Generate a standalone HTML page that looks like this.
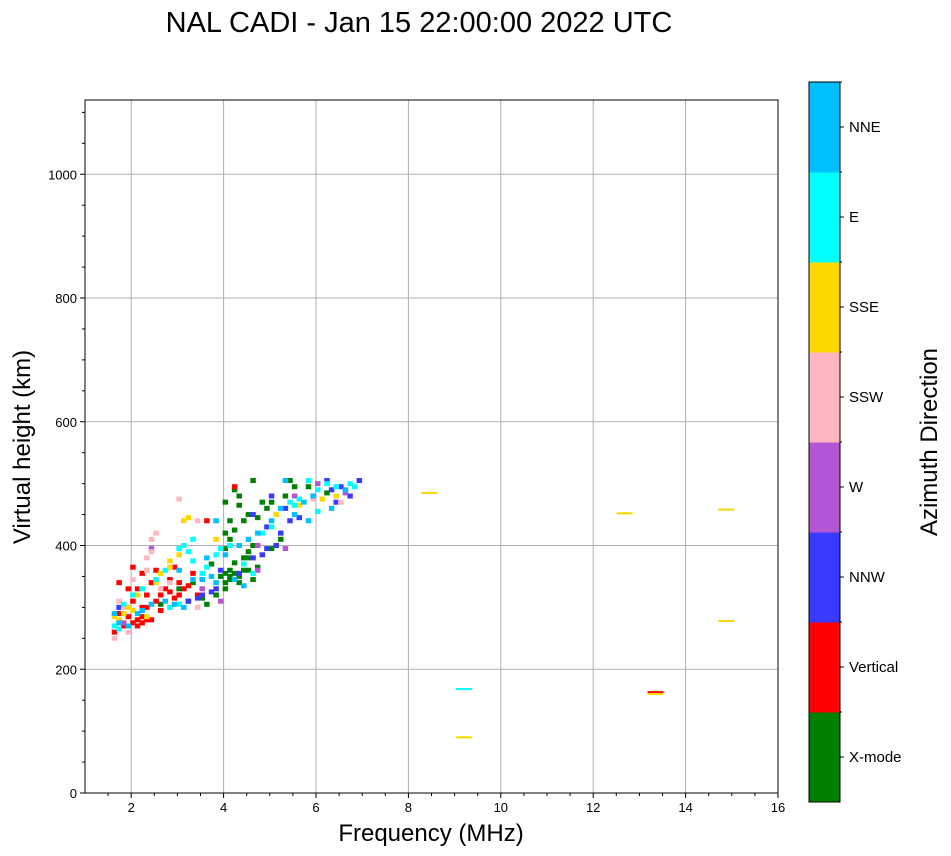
<!DOCTYPE html>
<html><head><meta charset="utf-8"><style>
html,body{margin:0;padding:0;background:#fff;}
svg{display:block;font-family:"Liberation Sans",sans-serif;}
</style></head><body>
<svg id="chart" width="951" height="856" viewBox="0 0 951 856">
<text x="419" y="32" font-size="29" text-anchor="middle">NAL CADI - Jan 15 22:00:00 2022 UTC</text>
<g id="grid"></g><g id="marks"></g><g id="axes"></g><g id="cbar"></g>
<text x="431" y="841" font-size="24" text-anchor="middle">Frequency (MHz)</text>
<text transform="translate(30,447) rotate(-90)" font-size="24" text-anchor="middle">Virtual height (km)</text>
<text transform="translate(937,442) rotate(-90)" font-size="24" text-anchor="middle">Azimuth Direction</text>
</svg>
<script>
const categories=["X-mode","Vertical","NNW","W","SSW","SSE","E","NNE"];
const catColors=["#008000","#ff0000","#3a3aff","#b455d6","#ffb6c1","#ffd700","#00ffff","#00bfff"];
const xTicks=[2,4,6,8,10,12,14,16];
const yTicks=[0,200,400,600,800,1000];
const greenPts=[[4.0,330],[4.0,340],[4.1,350],[4.2,355],[4.3,350],[4.4,360],[4.2,345],[4.1,360],[4.3,340],[3.9,350],[4.5,360],[4.4,380],[4.5,390],[4.6,400],[4.1,410],[4.2,425],[4.0,420],[4.4,440],[4.5,450],[4.7,445],[4.8,470],[4.3,480],[4.2,490],[4.9,460],[5.0,470],[5.3,480],[5.5,495],[5.4,505],[4.6,505],[3.6,305],[3.5,315],[3.8,320],[3.3,340],[4.0,395],[4.1,440],[5.1,400],[5.2,410],[3.0,330],[3.7,370],[4.5,380],[2.6,305],[5.0,395],[4.3,465],[5.8,495],[6.2,485],[4.0,470],[4.2,372],[4.6,345],[4.7,365],[4.0,355],[4.1,345]];
const redPts=[[2.0,275],[2.1,280],[2.2,275],[2.3,280],[2.2,285],[2.4,280],[2.1,270],[1.9,285],[1.8,270],[1.6,260],[1.7,290],[2.3,300],[2.5,310],[2.6,320],[2.7,330],[2.8,325],[2.9,315],[3.0,320],[3.1,330],[3.2,335],[2.2,300],[2.0,310],[2.4,340],[2.2,355],[2.5,360],[2.9,365],[3.3,355],[3.0,340],[3.4,320],[1.9,330],[1.7,340],[2.3,320],[2.6,295],[3.2,310],[2.1,330],[3.6,440],[4.2,495],[2.0,365],[2.8,345]];
const nnwPts=[[3.2,310],[3.4,315],[3.5,320],[3.7,325],[3.8,330],[4.3,355],[4.6,380],[4.8,385],[4.9,395],[5.1,400],[5.2,420],[5.4,440],[5.6,445],[5.3,460],[6.3,490],[6.5,495],[6.7,480],[6.9,505],[6.2,505],[6.4,470],[4.9,430],[4.6,450],[1.7,300],[3.9,360],[5.0,480]];
const wPts=[[2.4,395],[3.9,310],[4.7,360],[4.7,400],[5.3,395],[6.6,485],[1.8,275],[3.5,330],[6.0,500],[5.5,480]];
const sswPts=[[2.4,410],[2.4,390],[2.3,380],[2.5,420],[2.3,360],[1.8,300],[1.7,310],[2.0,345],[1.6,250],[3.0,475],[2.8,340],[2.6,330],[3.4,300],[6.5,470],[5.9,475],[3.4,440],[1.9,260]];
const ssePts=[[1.7,280],[1.8,290],[1.9,300],[2.0,295],[1.6,285],[2.5,340],[2.6,355],[2.8,365],[3.0,385],[3.1,440],[3.2,445],[3.8,410],[2.8,375],[2.3,285],[5.6,465],[6.1,475],[6.4,480],[5.1,450],[2.1,320]];
const ePts=[[1.6,270],[1.7,265],[1.8,305],[2.0,320],[2.2,330],[2.5,345],[2.7,360],[3.0,395],[3.1,400],[3.2,390],[3.3,375],[3.5,355],[3.6,365],[3.8,385],[3.9,395],[4.4,370],[4.6,355],[4.8,420],[5.0,430],[5.4,470],[5.6,475],[6.0,490],[6.2,500],[6.4,495],[6.8,495],[5.8,505],[5.5,465],[3.3,410],[2.8,300],[3.0,305],[6.7,500],[6.0,455],[4.1,400]];
const nnePts=[[1.6,290],[1.7,275],[1.9,270],[2.1,290],[2.4,305],[2.7,310],[2.9,305],[3.1,300],[3.3,345],[3.5,345],[3.7,350],[3.8,340],[4.0,385],[4.3,400],[4.5,410],[4.7,420],[5.0,440],[5.2,460],[5.5,450],[5.7,470],[5.9,480],[6.3,460],[6.6,490],[4.2,345],[3.6,380],[3.8,440],[5.3,505],[4.4,335],[2.2,295],[3.0,360],[5.8,440]];
const dashFreq=[8.45,12.68,14.88,14.88,9.2,13.35,13.35,9.2];
const dashHeight=[485,452,458,278,168,163,160,90];
const dashCat=[5,5,5,5,6,1,5,5];

const X0=85,X1=778,Y0=793,Y1=100,fMin=1,fMax=16,hMin=0,hMax=1120;
const xs=f=>X0+(f-fMin)/(fMax-fMin)*(X1-X0);
const ys=h=>Y0-(h-hMin)/(hMax-hMin)*(Y0-Y1);
const NS="http://www.w3.org/2000/svg";
function mk(tag,attrs,parent){const e=document.createElementNS(NS,tag);for(const k in attrs)e.setAttribute(k,attrs[k]);parent.appendChild(e);return e;}
const grid=document.getElementById('grid'),marks=document.getElementById('marks'),axes=document.getElementById('axes'),cbar=document.getElementById('cbar');
xTicks.forEach(t=>{const g=mk('line',{x1:xs(t),x2:xs(t),y1:Y1,y2:Y0,stroke:'#b0b0b0','stroke-width':1},grid);

});
yTicks.forEach(t=>{const g=mk('line',{x1:X0,x2:X1,y1:ys(t),y2:ys(t),stroke:'#b0b0b0','stroke-width':1},grid);

});
const sets=[greenPts,redPts,nnwPts,wPts,sswPts,ssePts,ePts,nnePts];
sets.forEach((pts,ci)=>pts.forEach(p=>{const r=mk('rect',{x:xs(p[0])-1,y:ys(p[1])-2.5,width:5.5,height:5,fill:catColors[ci]},marks);

}));
dashFreq.forEach((f,i)=>{const r=mk('rect',{x:xs(f)-8,y:ys(dashHeight[i])-1,width:16,height:2,fill:catColors[dashCat[i]]},marks);

});
const fr=mk('rect',{x:X0,y:Y1,width:X1-X0,height:Y0-Y1,fill:'none',stroke:'#000','stroke-width':1},axes);


for(let f=1.5;f<=16;f+=0.5){const maj=xTicks.includes(f);mk('line',{x1:xs(f),x2:xs(f),y1:Y0,y2:Y0+(maj?5:3),stroke:'#000'},axes);}
for(let h=0;h<=1100;h+=50){const maj=yTicks.includes(h);mk('line',{x1:X0,x2:X0-(maj?5:3),y1:ys(h),y2:ys(h),stroke:'#000'},axes);}
xTicks.forEach(t=>{const tx=mk('text',{x:xs(t),y:Y0+19,'font-size':13,'text-anchor':'middle'},axes);tx.textContent=t;

});
yTicks.forEach(t=>{const tx=mk('text',{x:X0-8,y:ys(t)+5,'font-size':13,'text-anchor':'end'},axes);tx.textContent=t;

});
const CB0=809,CBW=31,CBT=82,CBB=802,seg=(CBB-CBT)/categories.length;
categories.forEach((c,i)=>{const y=CBB-(i+1)*seg;
const r=mk('rect',{x:CB0,y:y,width:CBW,height:seg+0.5,fill:catColors[i]},cbar);


mk('line',{x1:CB0+CBW,x2:CB0+CBW+4,y1:y+seg/2,y2:y+seg/2,stroke:'#000'},cbar);
mk('line',{x1:CB0+CBW,x2:CB0+CBW+2,y1:y,y2:y,stroke:'#000'},cbar);
const tx=mk('text',{x:CB0+CBW+9,y:y+seg/2+5,'font-size':15},cbar);tx.textContent=c;

});
const cf=mk('rect',{x:CB0,y:CBT,width:CBW,height:CBB-CBT,fill:'none',stroke:'#000'},cbar);


</script>
</body></html>
